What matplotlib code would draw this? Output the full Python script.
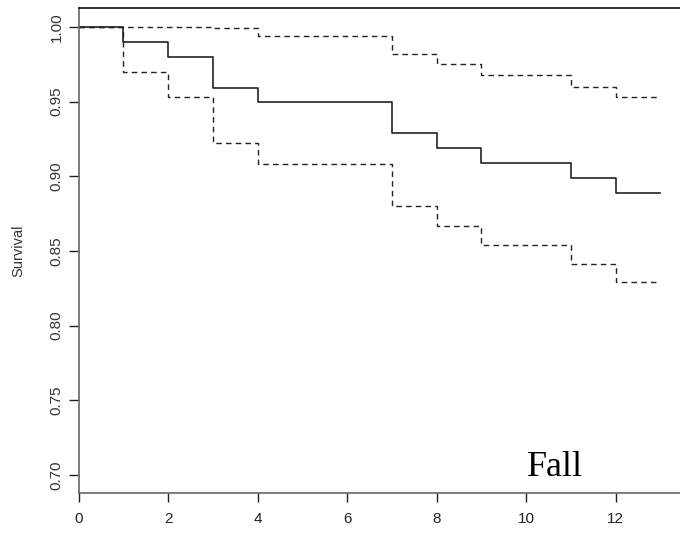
import numpy as np
import matplotlib
matplotlib.use("Agg")
import matplotlib.pyplot as plt

# Kaplan-Meier estimate with confidence band (step functions)
times = [0, 1, 2, 3, 4, 7, 8, 9, 11, 12, 13]
surv = [1.000, 0.990, 0.980, 0.959, 0.950, 0.929, 0.919, 0.909, 0.899, 0.889, 0.889]
upper = [1.000, 1.000, 1.000, 0.9995, 0.994, 0.9815, 0.975, 0.968, 0.960, 0.953, 0.953]
lower = [1.000, 0.970, 0.953, 0.922, 0.908, 0.880, 0.867, 0.854, 0.841, 0.829, 0.829]

xticks = [0, 2, 4, 6, 8, 10, 12]
yticks = [0.70, 0.75, 0.80, 0.85, 0.90, 0.95, 1.00]

plt.rcParams['font.family'] = ['Liberation Sans', 'DejaVu Sans']

fig = plt.figure(figsize=(6.8, 5.34), dpi=100)
# right edge of the box lies just outside the image, as in the original
ax = fig.add_axes([0.1157, 0.0768, 0.895, 0.908])

ax.step(times, surv, where='post', color='#222222', lw=1.2)
ax.step(times, upper, where='post', color='#222222', lw=1.0, ls=(0, (4, 3)))
ax.step(times, lower, where='post', color='#222222', lw=1.0, ls=(0, (4, 3)))

ax.set_xlim(0, 13.6)
ax.set_ylim(0.688, 1.0125)

ax.set_xticks(xticks)
ax.set_xticklabels([str(t) for t in xticks])
ax.set_yticks(yticks)
ax.set_yticklabels(['%.2f' % v for v in yticks], rotation=90, va='center')

ax.tick_params(axis='x', length=6.5, width=1, color='#222222', pad=7,
               labelsize=11, labelcolor='#222222')
ax.tick_params(axis='y', length=7, width=1, color='#222222', pad=4,
               labelsize=11, labelcolor='#333333')

for s in ['left', 'bottom']:
    ax.spines[s].set_color('#666666')
    ax.spines[s].set_linewidth(1.2)
ax.spines['top'].set_color('#111111')
ax.spines['top'].set_linewidth(1.2)

ax.set_ylabel('Survival', fontsize=10.5, color='#333333', labelpad=17)

ax.text(10.64, 0.6995, 'Fall', family=['Liberation Serif', 'DejaVu Serif'],
        fontsize=26, ha='center', va='baseline', color='black')

fig.savefig('out.png', dpi=100)
